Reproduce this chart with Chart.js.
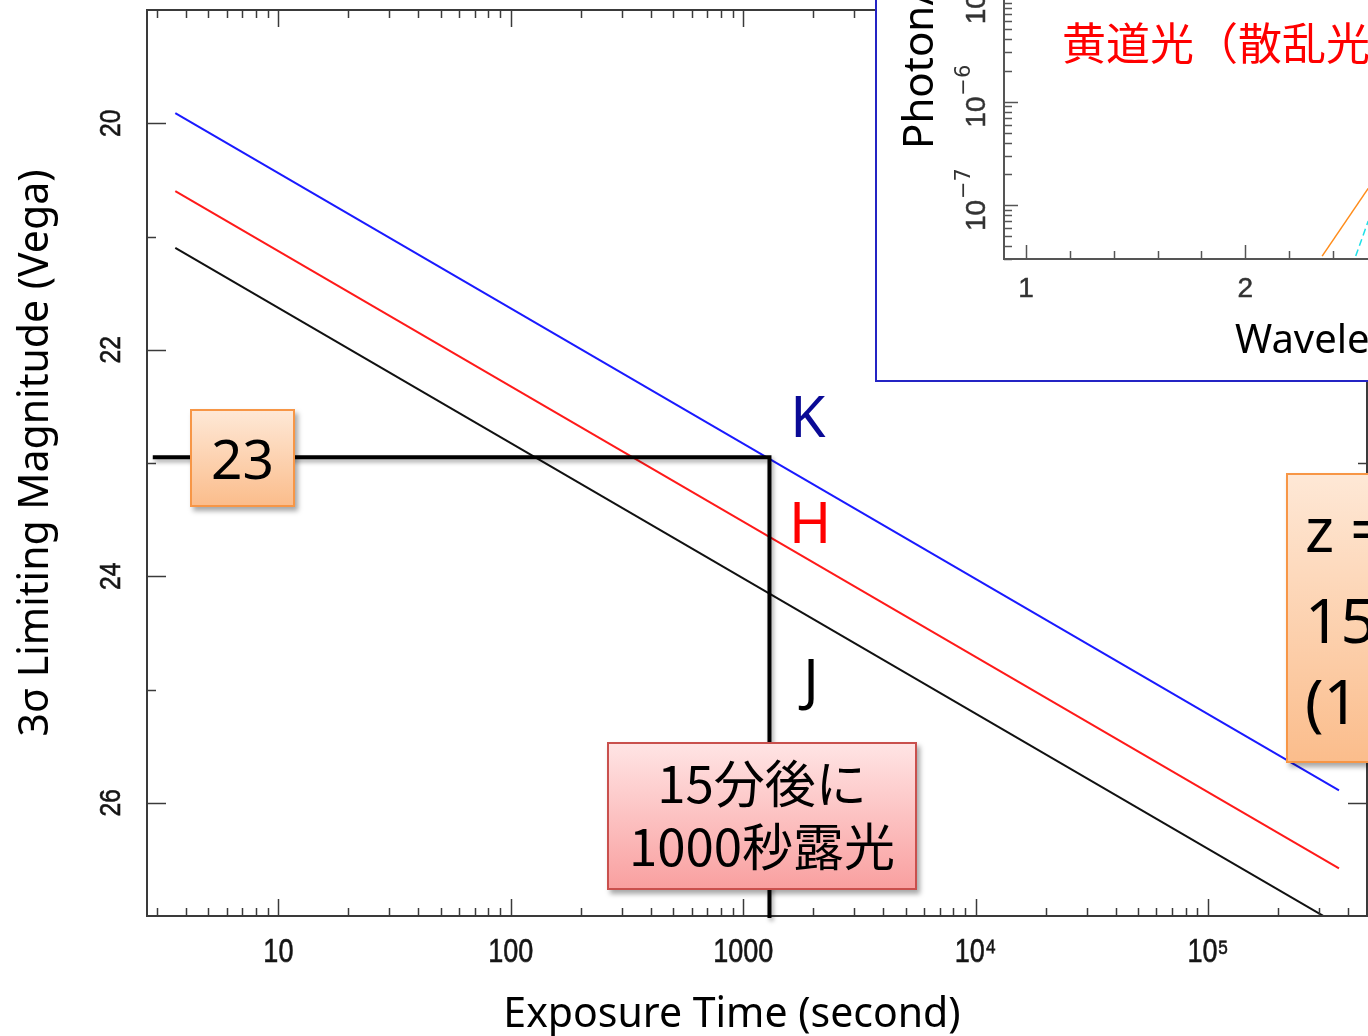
<!DOCTYPE html>
<html>
<head>
<meta charset="utf-8">
<script src="https://cdn.jsdelivr.net/npm/chart.js@4/dist/chart.umd.min.js"></script>
<style>
  html, body { margin: 0; padding: 0; width: 1368px; height: 1036px; overflow: hidden; background: #fff; }
  #wrap { position: relative; width: 1368px; height: 1036px; overflow: hidden; }
  #main { position: absolute; left: 0; top: 0; }
  #inset { position: absolute; left: 875px; top: -112px; width: 500px; height: 490px; border: 2px solid #2424c4; background: #fff; }
  #insetCanvas { position: absolute; left: 0; top: 0; }
  .box { position: absolute; box-sizing: border-box; color: #000; box-shadow: 3px 4px 5px rgba(0,0,0,0.35); }
  .orange { border: 2px solid #f79646; background: linear-gradient(#fee8d6, #fbbd8c); }
  .pink { border: 2px solid #c9504d; background: linear-gradient(#ffe4e4, #f9a0a0); }
  #box23 { left: 190px; top: 409px; width: 105px; height: 98px; display: flex; align-items: center; justify-content: center;
           font: 55px "Noto Sans", sans-serif; line-height: 1; padding-bottom: 2px; }
  #boxWait { left: 607px; top: 742px; width: 310px; height: 148px; display: flex; flex-direction: column; align-items: center; justify-content: center;
             font: 51px "Noto Sans CJK JP", sans-serif; line-height: 63px; padding-bottom: 6px; }
  #boxZ { left: 1286px; top: 473px; width: 160px; height: 290px; font: 62px "Noto Sans", sans-serif; }
  #boxZ span { position: absolute; left: 17px; line-height: 84px; white-space: nowrap; }
</style>
</head>
<body>
<div id="wrap">
  <canvas id="main" width="1368" height="1036"></canvas>
  <div id="inset"><canvas id="insetCanvas" width="500" height="490"></canvas></div>
  <div class="box orange" id="box23">23</div>
  <div class="box pink" id="boxWait"><div>15分後に</div><div>1000秒露光</div></div>
  <div class="box orange" id="boxZ"><span style="top:11px">z =</span><span style="top:102px">15</span><span style="top:183px">(1</span></div>
</div>
<script>
// main plot: limiting magnitude vs exposure time (straight lines in log t)
const exposure = [3.6, 366000];
const magK = [19.91, 25.89];
const magH = [20.60, 26.58];
const magJ = [21.10, 27.08];
const bandNames = ['K', 'H', 'J'];
const lineColors = ['#1a1aff', '#ff1a1a', '#111111'];
const labelColors = ['#0a0a96', '#ff0000', '#000000'];
const xTickValues = [10, 100, 1000, 10000, 100000];
const xTickLabels = ['10', '100', '1000', '10⁴', '10⁵'];
const yTickValues = [20, 22, 24, 26];

// marked point: 23 mag reached at ~1000 s
const markStart = 2.88;
const markTime = 1297;
const markMag = 22.95;

// inset spectrum (only the visible corner)
const insetOrangeWave = [2.35, 2.56];
const insetOrange = [3.2e-8, 1.45e-7];
const insetCyanWave = [2.503, 2.56];
const insetCyan = [3.2e-8, 7.0e-8];
const insetXTicks = [1, 2];
const insetYTicks = [1e-7, 1e-6, 1e-5];
const insetYExp = ['−7', '−6', '−5'];

const pts = (xs, ys) => xs.map((x, i) => ({ x: x, y: ys[i] }));

function seg(ctx, x1, y1, x2, y2) {
  ctx.beginPath(); ctx.moveTo(x1, y1); ctx.lineTo(x2, y2); ctx.stroke();
}

function boldText(ctx, s, x, y) {
  ctx.fillText(s, x, y);
  ctx.strokeText(s, x, y);
}

const mainFrame = {
  id: 'mainFrame',
  afterDatasetsDraw(chart) {
    const { ctx, chartArea: a, scales: { x, y } } = chart;
    ctx.save();
    // frame
    ctx.strokeStyle = '#3a3a3a';
    ctx.lineWidth = 2;
    ctx.strokeRect(a.left, a.top, a.right - a.left, a.bottom - a.top);

    // x ticks, inward, bottom and top
    ctx.lineWidth = 1.5;
    for (let d = 1; d <= 1e5; d *= 10) {
      for (let m = 1; m < 10; m++) {
        const v = m * d;
        if (v < x.min || v > x.max) continue;
        const px = Math.round(x.getPixelForValue(v)) + 0.5;
        const len = m === 1 ? 17 : 8;
        seg(ctx, px, a.bottom, px, a.bottom - len);
        seg(ctx, px, a.top, px, a.top + len);
      }
    }
    // y ticks, inward, left and right
    for (let v = 20; v <= 26; v++) {
      const py = Math.round(y.getPixelForValue(v)) + 0.5;
      const len = v % 2 === 0 ? 19 : 9;
      seg(ctx, a.left, py, a.left + len, py);
      seg(ctx, a.right, py, a.right - len, py);
    }

    // x tick labels (condensed)
    ctx.fillStyle = '#151515';
    ctx.strokeStyle = '#151515';
    ctx.lineWidth = 0.6;
    ctx.font = '33px "Liberation Sans", sans-serif';
    ctx.textAlign = 'center';
    ctx.textBaseline = 'alphabetic';
    xTickValues.forEach((v, i) => {
      ctx.save();
      ctx.translate(x.getPixelForValue(v), 962);
      ctx.scale(0.82, 1);
      boldText(ctx, xTickLabels[i], 0, 0);
      ctx.restore();
    });
    // y tick labels, rotated
    ctx.font = '30px "Liberation Sans", sans-serif';
    yTickValues.forEach(v => {
      ctx.save();
      ctx.translate(120, y.getPixelForValue(v));
      ctx.rotate(-Math.PI / 2);
      ctx.scale(0.82, 1);
      boldText(ctx, String(v), 0, 0);
      ctx.restore();
    });

    // axis titles
    ctx.fillStyle = '#000';
    ctx.font = '41px "Noto Sans", sans-serif';
    ctx.fillText('Exposure Time (second)', 732, 1027);
    ctx.save();
    ctx.translate(48, 453);
    ctx.rotate(-Math.PI / 2);
    ctx.fillText('3σ Limiting Magnitude (Vega)', 0, 0);
    ctx.restore();

    // band labels
    ctx.font = '57px "Noto Sans", sans-serif';
    const labelPos = [[808, 437], [810, 543], [811, 700]];
    bandNames.forEach((n, i) => {
      ctx.fillStyle = labelColors[i];
      ctx.fillText(n, labelPos[i][0], labelPos[i][1]);
    });

    // marker lines
    const mx = x.getPixelForValue(markTime);
    const my = y.getPixelForValue(markMag);
    ctx.shadowColor = 'rgba(0,0,0,0.35)';
    ctx.shadowBlur = 4;
    ctx.shadowOffsetX = 2;
    ctx.shadowOffsetY = 3;
    ctx.strokeStyle = '#000';
    ctx.lineWidth = 4;
    ctx.lineJoin = 'miter';
    ctx.beginPath();
    ctx.moveTo(x.getPixelForValue(markStart), my);
    ctx.lineTo(mx, my);
    ctx.lineTo(mx, a.bottom + 2);
    ctx.stroke();
    ctx.restore();
  }
};

new Chart(document.getElementById('main'), {
  type: 'line',
  data: {
    datasets: [
      { label: 'K', data: pts(exposure, magK), borderColor: lineColors[0] },
      { label: 'H', data: pts(exposure, magH), borderColor: lineColors[1] },
      { label: 'J', data: pts(exposure, magJ), borderColor: lineColors[2] }
    ]
  },
  options: {
    responsive: false,
    animation: false,
    elements: { line: { borderWidth: 2, tension: 0 }, point: { radius: 0 } },
    layout: { padding: { left: 0, top: 10, right: 1, bottom: 0 } },
    plugins: { legend: { display: false }, tooltip: { enabled: false } },
    scales: {
      x: {
        type: 'logarithmic', min: 2.72, max: 4.83e5,
        ticks: { display: false }, grid: { display: false }, border: { display: false },
        afterFit: s => { s.height = 120; }
      },
      y: {
        type: 'linear', reverse: true, min: 19, max: 27,
        ticks: { display: false }, grid: { display: false }, border: { display: false },
        afterFit: s => { s.width = 147; }
      }
    }
  },
  plugins: [mainFrame]
});

// inset: photon spectrum panel
const insetFrame = {
  id: 'insetFrame',
  afterDatasetsDraw(chart) {
    const { ctx, chartArea: a, scales: { x, y } } = chart;
    ctx.save();
    ctx.strokeStyle = '#555';
    ctx.lineWidth = 2;
    ctx.strokeRect(a.left, a.top, a.right - a.left, a.bottom - a.top);

    ctx.lineWidth = 1.5;
    for (let d = 1e-8; d <= 1e-4; d *= 10) {
      for (let m = 1; m < 10; m++) {
        const v = m * d;
        if (v < y.min || v > y.max) continue;
        const py = Math.round(y.getPixelForValue(v)) + 0.5;
        seg(ctx, a.left, py, a.left + (m === 1 ? 14 : 8), py);
      }
    }
    for (let k = 5; k <= 13; k++) {
      const v = k / 5;
      const px = Math.round(x.getPixelForValue(v)) + 0.5;
      seg(ctx, px, a.bottom, px, a.bottom - (k % 5 === 0 ? 14 : 8));
    }

    ctx.fillStyle = '#333';
    ctx.strokeStyle = '#333';
    ctx.lineWidth = 0.5;
    ctx.textBaseline = 'alphabetic';
    ctx.textAlign = 'center';
    ctx.font = '28px "Liberation Sans", sans-serif';
    insetXTicks.forEach(v => boldText(ctx, String(v), x.getPixelForValue(v), 407));

    ctx.textAlign = 'left';
    insetYTicks.forEach((v, i) => {
      ctx.save();
      ctx.translate(108, y.getPixelForValue(v));
      ctx.rotate(-Math.PI / 2);
      ctx.font = '28px "Liberation Sans", sans-serif';
      boldText(ctx, '10', -26, 0);
      ctx.font = '21px "DejaVu Sans", sans-serif';
      ctx.fillText(insetYExp[i], 6, -15);
      ctx.restore();
    });

    ctx.fillStyle = '#000';
    ctx.font = '42px "Noto Sans", sans-serif';
    ctx.save();
    ctx.translate(56, 259);
    ctx.rotate(-Math.PI / 2);
    ctx.fillText('Photon/', 0, 0);
    ctx.restore();
    ctx.font = '40px "Noto Sans", sans-serif';
    ctx.fillText('Wavele', 358, 463);

    ctx.fillStyle = '#ff0000';
    ctx.font = '44px "Noto Sans CJK JP", sans-serif';
    ctx.fillText('黄道光（散乱光', 185, 170);
    ctx.restore();
  }
};

new Chart(document.getElementById('insetCanvas'), {
  type: 'line',
  data: {
    datasets: [
      { data: pts(insetOrangeWave, insetOrange), borderColor: '#ff8c1a', borderWidth: 1.5 },
      { data: pts(insetCyanWave, insetCyan), borderColor: '#1ee0e8', borderWidth: 1.5, borderDash: [7, 4] }
    ]
  },
  options: {
    responsive: false,
    animation: false,
    elements: { line: { tension: 0 }, point: { radius: 0 } },
    layout: { padding: { left: 0, top: 5, right: 0, bottom: 0 } },
    plugins: { legend: { display: false }, tooltip: { enabled: false } },
    scales: {
      x: {
        type: 'linear', min: 0.9, max: 2.6,
        ticks: { display: false }, grid: { display: false }, border: { display: false },
        afterFit: s => { s.height = 121; }
      },
      y: {
        type: 'logarithmic', min: 3.1623e-8, max: 1e-4,
        ticks: { display: false }, grid: { display: false }, border: { display: false },
        afterFit: s => { s.width = 127; }
      }
    }
  },
  plugins: [insetFrame]
});
</script>
</body>
</html>
